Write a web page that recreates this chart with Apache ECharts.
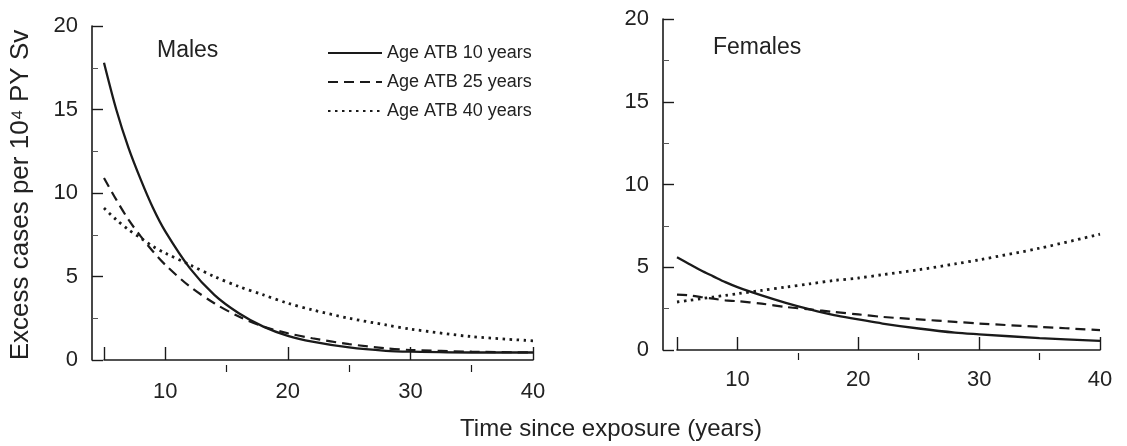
<!DOCTYPE html>
<html>
<head>
<meta charset="utf-8">
<script src="https://cdn.jsdelivr.net/npm/echarts@6/dist/echarts.min.js"></script>
<style>
  html, body { margin: 0; padding: 0; background: #fff; }
  #main { width: 1127px; height: 446px; }
</style>
</head>
<body>
<div id="main"></div>
<script>
// years since exposure (x values)
var years = [5, 6, 7, 8, 9, 10, 12, 14, 16, 18, 20, 22, 25, 28, 30, 35, 40];

// males, excess cases per 10^4 PY Sv
var maleAge10 = [17.8, 15.0, 12.7, 10.8, 9.1, 7.7, 5.5, 3.9, 2.8, 2.0, 1.45, 1.1, 0.75, 0.55, 0.5, 0.45, 0.45];
var maleAge25 = [10.9, 9.6, 8.4, 7.4, 6.5, 5.7, 4.4, 3.4, 2.6, 2.0, 1.6, 1.3, 0.95, 0.7, 0.6, 0.5, 0.45];
var maleAge40 = [9.1, 8.4, 7.8, 7.3, 6.8, 6.4, 5.7, 5.0, 4.4, 3.9, 3.4, 3.0, 2.5, 2.1, 1.85, 1.4, 1.15];

// females
var femaleAge10 = [5.6, 5.2, 4.8, 4.45, 4.1, 3.8, 3.3, 2.85, 2.45, 2.1, 1.85, 1.6, 1.3, 1.05, 0.95, 0.72, 0.55];
var femaleAge25 = [3.35, 3.3, 3.2, 3.1, 3.0, 2.95, 2.8, 2.6, 2.45, 2.3, 2.15, 2.0, 1.85, 1.7, 1.6, 1.4, 1.2];
var femaleAge40 = [2.9, 3.0, 3.1, 3.2, 3.3, 3.4, 3.6, 3.8, 4.0, 4.2, 4.35, 4.55, 4.85, 5.2, 5.45, 6.15, 7.0];

var names = ['Age ATB 10 years', 'Age ATB 25 years', 'Age ATB 40 years'];
var xLabels = [10, 20, 30, 40];
var xMajorTicks = [5, 10, 20, 30, 40];
var xMinorTicks = [15, 25, 35];

var ink = '#1a1a1a';
var font = '"Liberation Sans", Arial, Helvetica, sans-serif';

function pairs(vals) {
  var out = [];
  for (var i = 0; i < years.length; i++) {
    out.push([years[i], vals[i]]);
  }
  return out;
}

// line styles: solid, dashed, dotted
var styles = [
  { width: 2.3, type: 'solid' },
  { width: 2.2, type: [10, 6] },
  { width: 2.8, type: [2.5, 4.5] }
];

function mkSeries(idx, grid, vals) {
  return {
    name: names[idx],
    type: 'line',
    xAxisIndex: grid * 2,
    yAxisIndex: grid,
    data: pairs(vals),
    smooth: 0.3,
    symbol: 'none',
    lineStyle: { color: ink, width: styles[idx].width, type: styles[idx].type },
    itemStyle: { color: ink },
    z: 3
  };
}

function mkX(grid, offset) {
  return {
    type: 'value', gridIndex: grid, position: 'bottom', min: 5, max: 40, interval: 5,
    offset: offset,
    axisLine: { show: true, lineStyle: { color: ink, width: 1.6 } },
    axisTick: { show: true, inside: true, length: 13, customValues: xMajorTicks,
      lineStyle: { color: ink, width: 1.4 } },
    axisLabel: { customValues: xLabels, margin: 9, fontSize: 22, color: '#222', fontFamily: font },
    splitLine: { show: false }
  };
}

function mkXMinor(grid, offset) {
  return {
    type: 'value', gridIndex: grid, position: 'bottom', min: 5, max: 40, interval: 5,
    offset: offset,
    axisLine: { show: false },
    axisTick: { show: true, inside: true, length: 7, customValues: xMinorTicks,
      lineStyle: { color: ink, width: 1.2 } },
    axisLabel: { show: false },
    splitLine: { show: false }
  };
}

function mkY(grid, offset) {
  return {
    type: 'value', gridIndex: grid, min: 0, max: 20, interval: 5,
    offset: offset,
    axisLine: { show: true, lineStyle: { color: ink, width: 1.6 } },
    axisTick: { show: true, inside: true, length: 11, lineStyle: { color: ink, width: 1.4 } },
    minorTick: { show: true, splitNumber: 2, length: 6, lineStyle: { color: '#555', width: 1 } },
    axisLabel: { margin: 14, fontSize: 22, color: '#222', fontFamily: font },
    splitLine: { show: false }
  };
}

var chart = echarts.init(document.getElementById('main'));

chart.setOption({
  backgroundColor: '#fff',
  animation: false,
  textStyle: { fontFamily: font },
  grid: [
    { left: 104, top: 26, width: 429, height: 334 },
    { left: 677, top: 19, width: 423, height: 331 }
  ],
  xAxis: [mkX(0, 12), mkXMinor(0, 12), mkX(1, 10), mkXMinor(1, 10)],
  yAxis: [mkY(0, 12), mkY(1, 14)],
  legend: {
    data: names,
    orient: 'vertical',
    left: 322, top: 39,
    itemWidth: 54, itemHeight: 14, itemGap: 11,
    itemStyle: { opacity: 0 },
    textStyle: { fontSize: 18, color: '#222', fontFamily: font },
    inactiveColor: '#999'
  },
  graphic: [
    { type: 'text', left: 157, top: 39,
      style: { text: 'Males', fill: '#222', font: '23px ' + font } },
    { type: 'text', left: 713, top: 36,
      style: { text: 'Females', fill: '#222', font: '23px ' + font } },
    { type: 'text', x: 611, y: 429,
      style: { text: 'Time since exposure (years)', fill: '#222', font: '24px ' + font,
        textAlign: 'center', textVerticalAlign: 'middle' } },
    { type: 'text', x: 21, y: 195, rotation: Math.PI / 2,
      style: { text: 'Excess cases per 10\u2074 PY Sv', fill: '#222', font: '26px ' + font,
        textAlign: 'center', textVerticalAlign: 'middle' } }
  ],
  series: [
    mkSeries(0, 0, maleAge10),
    mkSeries(1, 0, maleAge25),
    mkSeries(2, 0, maleAge40),
    mkSeries(0, 1, femaleAge10),
    mkSeries(1, 1, femaleAge25),
    mkSeries(2, 1, femaleAge40)
  ]
});
</script>
</body>
</html>
